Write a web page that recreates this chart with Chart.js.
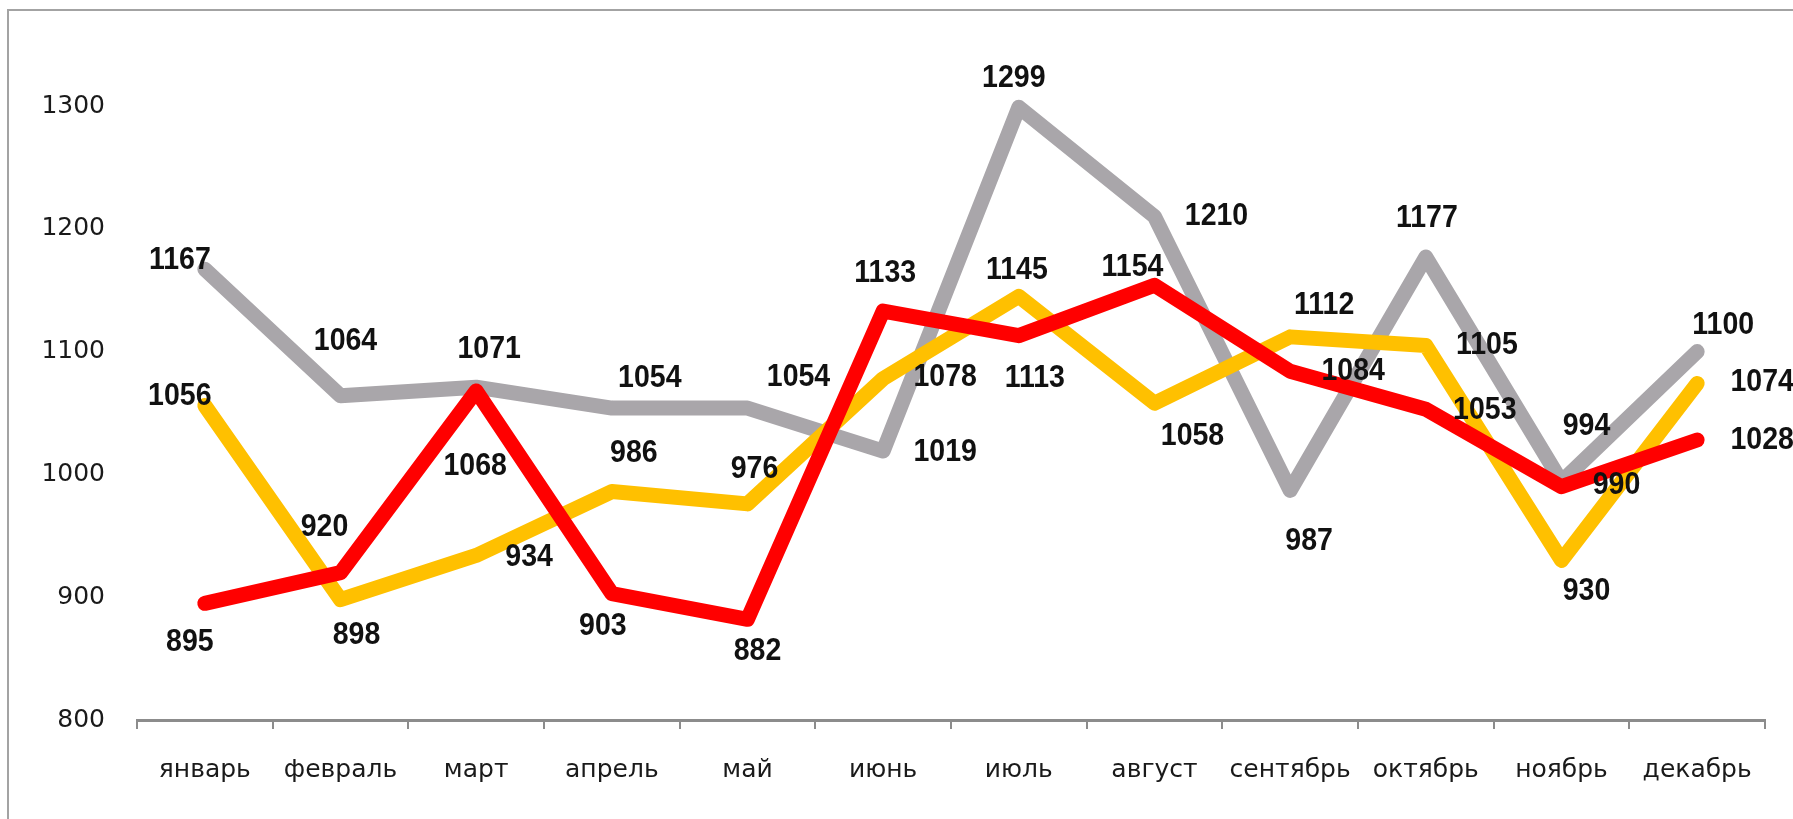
<!DOCTYPE html>
<html>
<head>
<meta charset="utf-8">
<script src="https://cdn.jsdelivr.net/npm/chart.js@4/dist/chart.umd.min.js"></script>
<style>
    html, body { margin: 0; padding: 0; background: #fff; overflow: hidden; }
    #wrap { position: relative; width: 1793px; height: 819px; }
    #frame {
        position: absolute; left: 7px; top: 9px; width: 1900px; height: 900px;
        border-top: 2px solid #a3a3a3; border-left: 2px solid #a3a3a3;
    }
    canvas { position: absolute; left: 0; top: 0; }
</style>
</head>
<body>
<div id="wrap">
    <div id="frame"></div>
    <canvas id="lineChart" width="1793" height="819"></canvas>
</div>
<script>
// months
const months = ['январь', 'февраль', 'март', 'апрель', 'май', 'июнь',
    'июль', 'август', 'сентябрь', 'октябрь', 'ноябрь', 'декабрь'];

// series values
const grayValues = [1167, 1064, 1071, 1054, 1054, 1019, 1299, 1210, 987, 1177, 994, 1100];
const yellowValues = [1056, 898, 934, 986, 976, 1078, 1145, 1058, 1112, 1105, 930, 1074];
const redValues = [895, 920, 1068, 903, 882, 1133, 1113, 1154, 1084, 1053, 990, 1028];

// y axis tick labels
const yTicks = [800, 900, 1000, 1100, 1200, 1300];

// where each value label sits relative to its point (px)
const grayLabelDx = [-25, 5, 13, 38, 51, 62, -5, 62, 19, 1, 25, 26];
const grayLabelDy = [-10, -55, -39, -31, -32, 0, -30, -1, 50, -40, -56, -27];
const yellowLabelDx = [-25, 16, 53, 22, 7, 62, -2, 38, 34, 61, 25, 65];
const yellowLabelDy = [-10, 35, 1, -39, -35, -2, -27, 32, -32, -1, 30, -2];
const redLabelDx = [-15, -16, -1, -9, 10, 2, 16, -22, 63, 59, 55, 65];
const redLabelDy = [38, -46, 75, 32, 31, -39, 42, -19, -1, 0, -2, -1];

const labelOffsets = [
    [grayLabelDx, grayLabelDy],
    [yellowLabelDx, yellowLabelDy],
    [redLabelDx, redLabelDy]
];

// draw the value labels on top of all lines (a bit condensed, like the original)
const valueLabels = {
    id: 'valueLabels',
    afterDatasetsDraw(chart) {
        const ctx = chart.ctx;
        const squeeze = 0.92;
        ctx.save();
        ctx.font = 'bold 31px "Liberation Sans", Arial, sans-serif';
        ctx.fillStyle = '#111';
        ctx.textAlign = 'center';
        ctx.textBaseline = 'middle';
        chart.data.datasets.forEach((ds, i) => {
            const meta = chart.getDatasetMeta(i);
            const [dx, dy] = labelOffsets[i];
            meta.data.forEach((pt, j) => {
                const x = pt.x + dx[j];
                const y = pt.y + dy[j] + 1;
                ctx.save();
                ctx.translate(x, y);
                ctx.scale(squeeze, 1);
                ctx.fillText(ds.data[j], 0, 0);
                ctx.restore();
            });
        });
        ctx.restore();
    }
};

const lineStyle = {
    borderWidth: 15,
    borderCapStyle: 'round',
    borderJoinStyle: 'round',
    pointRadius: 0,
    pointHoverRadius: 0,
    tension: 0,
    clip: false,
    fill: false
};

new Chart(document.getElementById('lineChart'), {
    type: 'line',
    data: {
        labels: months,
        datasets: [
            { ...lineStyle, data: grayValues, borderColor: '#a9a6aa', order: 3 },
            { ...lineStyle, data: yellowValues, borderColor: '#ffc000', order: 2 },
            { ...lineStyle, data: redValues, borderColor: '#ff0000', order: 1 }
        ]
    },
    options: {
        responsive: false,
        animation: false,
        events: [],
        layout: {
            padding: { top: 106, right: 28, bottom: 0, left: 0 }
        },
        scales: {
            x: {
                offset: true,
                grid: {
                    display: true,
                    drawOnChartArea: false,
                    drawTicks: true,
                    tickLength: 9,
                    color: '#8c8c8c',
                    lineWidth: 2,
                    offset: true
                },
                border: { display: true, color: '#8c8c8c', width: 3 },
                ticks: {
                    font: { family: '"DejaVu Sans", Verdana, sans-serif', size: 25 },
                    color: '#1a1a1a',
                    padding: 26,
                    maxRotation: 0,
                    autoSkip: false
                },
                afterFit(scale) { scale.height = 99; }
            },
            y: {
                min: 800,
                max: 1300,
                afterBuildTicks(scale) {
                    scale.ticks = yTicks.map(v => ({ value: v }));
                },
                grid: { display: false, drawTicks: false },
                border: { display: false },
                ticks: {
                    font: { family: '"DejaVu Sans", Verdana, sans-serif', size: 25 },
                    color: '#1a1a1a',
                    padding: 32,
                    callback: (v) => String(v)
                },
                afterFit(scale) { scale.width = 137; }
            }
        },
        plugins: {
            legend: { display: false },
            tooltip: { enabled: false }
        }
    },
    plugins: [valueLabels]
});
</script>
</body>
</html>
